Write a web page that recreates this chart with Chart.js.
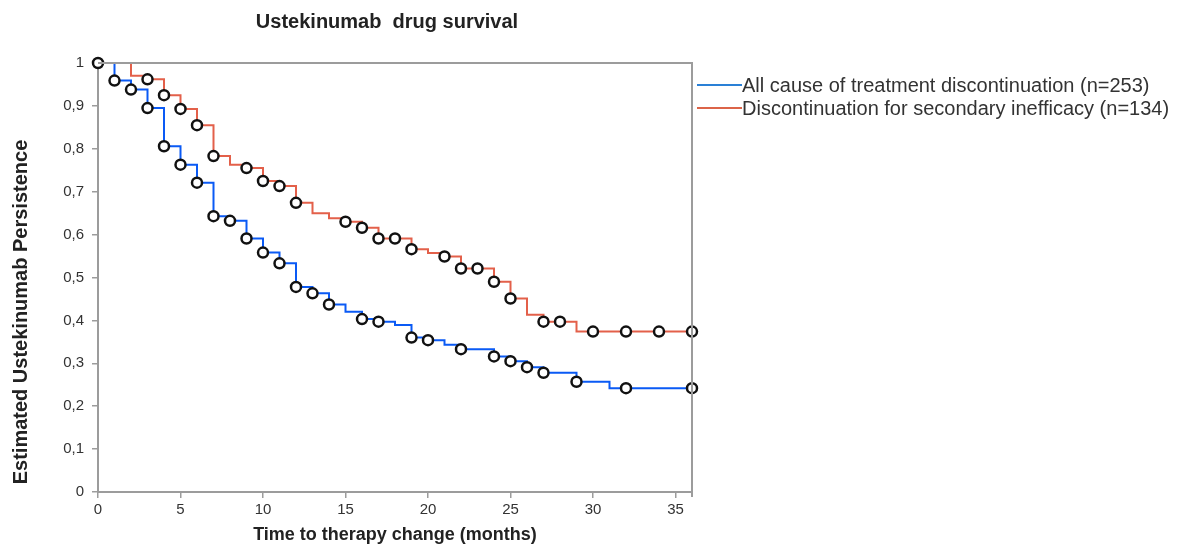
<!DOCTYPE html>
<html>
<head>
<meta charset="utf-8">
<script src="https://cdn.jsdelivr.net/npm/chart.js@4.4.1/dist/chart.umd.min.js"></script>
<style>
  html, body { margin: 0; padding: 0; background: #fff; }
</style>
</head>
<body>
<canvas id="kmChart" width="1182" height="548"></canvas>
<script>
// months where each curve steps down, and the level right after the step
const allCauseMonths = [0, 1, 2, 3, 4, 5, 6, 7, 8, 9, 10, 11, 12, 13, 14, 15, 16, 17, 18, 19, 20, 21, 22, 24, 25, 26, 27, 29, 31, 36];
const allCauseValues = [1, 0.959, 0.938, 0.895, 0.806, 0.763, 0.721, 0.643, 0.632, 0.591, 0.558, 0.533, 0.478, 0.463, 0.437, 0.420, 0.403, 0.397, 0.389, 0.360, 0.354, 0.343, 0.333, 0.316, 0.305, 0.291, 0.278, 0.257, 0.242, 0.242];
const allCauseCensored = [1, 2, 3, 4, 5, 6, 7, 8, 9, 10, 11, 12, 13, 14, 16, 17, 19, 20, 22, 24, 25, 26, 27, 29, 32, 36];

const ineffMonths = [0, 2, 3, 4, 5, 6, 7, 8, 9, 10, 11, 12, 13, 14, 15, 16, 17, 19, 20, 21, 22, 24, 25, 26, 27, 29, 36];
const ineffValues = [1, 0.97, 0.962, 0.925, 0.893, 0.855, 0.783, 0.763, 0.755, 0.725, 0.713, 0.674, 0.650, 0.638, 0.630, 0.616, 0.591, 0.566, 0.557, 0.549, 0.521, 0.490, 0.451, 0.413, 0.397, 0.374, 0.374];
const ineffCensored = [0, 3, 4, 5, 6, 7, 9, 10, 11, 12, 15, 16, 17, 18, 19, 21, 22, 23, 24, 25, 27, 28, 30, 32, 34, 36];

const xTicks = [0, 5, 10, 15, 20, 25, 30, 35];
const seriesLabels = ['All cause of treatment discontinuation (n=253)', 'Discontinuation for secondary inefficacy (n=134)'];

const blue = '#0a5af5';
const red = '#e3604a';
const legendColors = ['#2a80d6', '#dc6448'];
const axisGray = '#9c9c9c';
const FONT = '"Liberation Sans", Arial, sans-serif';

// level of a step curve at month m
function levelAt(months, values, m) {
    let v = values[0];
    for (let i = 0; i < months.length; i++) {
        if (months[i] <= m) v = values[i];
    }
    return v;
}

function stepPoints(months, values) {
    return months.map((m, i) => ({ x: m, y: values[i] }));
}

function censorPoints(months, values, censored) {
    return censored.map(m => ({ x: m, y: levelAt(months, values, m) }));
}

const circleStyle = {
    showLine: false,
    pointRadius: 5,
    pointBorderWidth: 2.5,
    pointBorderColor: '#111',
    pointBackgroundColor: '#fff',
    clip: false,
    order: 0
};

// title, y title, frame edges and legend drawn by hand
const extras = {
    id: 'extras',
    afterDatasetsDraw(chart) {
        const c = chart.ctx;
        const a = chart.chartArea;
        c.save();
        c.strokeStyle = axisGray;
        c.lineWidth = 2;
        c.beginPath();
        c.moveTo(a.left, a.top);
        c.lineTo(a.right, a.top);
        c.lineTo(a.right, a.bottom + 5);
        c.stroke();
        c.restore();
    },
    afterDraw(chart) {
        const c = chart.ctx;
        c.save();
        c.fillStyle = '#222';
        c.font = 'bold 20px ' + FONT;
        c.textAlign = 'center';
        c.textBaseline = 'middle';
        c.fillText('Ustekinumab  drug survival', 387, 22);

        c.save();
        c.translate(21, 312);
        c.rotate(-Math.PI / 2);
        c.fillText('Estimated Ustekinumab Persistence', 0, 0);
        c.restore();

        c.font = '20px ' + FONT;
        c.textAlign = 'left';
        seriesLabels.forEach((txt, i) => {
            const y = 85 + i * 23;
            c.strokeStyle = legendColors[i];
            c.lineWidth = 2;
            c.beginPath();
            c.moveTo(697, y);
            c.lineTo(742, y);
            c.stroke();
            c.fillStyle = '#333';
            c.fillText(txt, 742, y + 1);
        });
        c.restore();
    }
};

const ctx = document.getElementById('kmChart').getContext('2d');
const chart = new Chart(ctx, {
    type: 'line',
    data: {
        datasets: [
            Object.assign({ data: censorPoints(allCauseMonths, allCauseValues, allCauseCensored) }, circleStyle),
            Object.assign({ data: censorPoints(ineffMonths, ineffValues, ineffCensored) }, circleStyle),
            {
                label: seriesLabels[0],
                data: stepPoints(allCauseMonths, allCauseValues),
                stepped: true,
                borderColor: blue,
                borderWidth: 2,
                pointRadius: 0,
                fill: false,
                order: 1
            },
            {
                label: seriesLabels[1],
                data: stepPoints(ineffMonths, ineffValues),
                stepped: true,
                borderColor: red,
                borderWidth: 2,
                pointRadius: 0,
                fill: false,
                order: 1
            }
        ]
    },
    options: {
        responsive: false,
        animation: false,
        devicePixelRatio: 1,
        layout: { padding: { top: 63, right: 490, left: 0, bottom: 0 } },
        plugins: {
            legend: { display: false },
            tooltip: { enabled: false }
        },
        scales: {
            x: {
                type: 'linear',
                min: 0,
                max: 36,
                afterBuildTicks: scale => { scale.ticks = xTicks.map(v => ({ value: v })); },
                afterFit: scale => { scale.height = 56; },
                ticks: { font: { family: FONT, size: 15 }, color: '#333', padding: 3, maxRotation: 0 },
                grid: { drawOnChartArea: false, tickLength: 6, color: axisGray, lineWidth: 1.5 },
                border: { color: axisGray, width: 2 },
                title: {
                    display: true,
                    text: 'Time to therapy change (months)',
                    font: { family: FONT, size: 18, weight: 'bold' },
                    color: '#222',
                    padding: { top: 0, bottom: 2 }
                }
            },
            y: {
                min: 0,
                max: 1,
                afterFit: scale => { scale.width = 98; },
                ticks: {
                    stepSize: 0.1,
                    font: { family: FONT, size: 15 },
                    color: '#333',
                    padding: 8,
                    callback: v => String(Math.round(v * 10) / 10).replace('.', ',')
                },
                grid: { drawOnChartArea: false, tickLength: 6, color: axisGray, lineWidth: 1.5 },
                border: { color: axisGray, width: 2 }
            }
        }
    },
    plugins: [extras]
});
</script>
</body>
</html>
